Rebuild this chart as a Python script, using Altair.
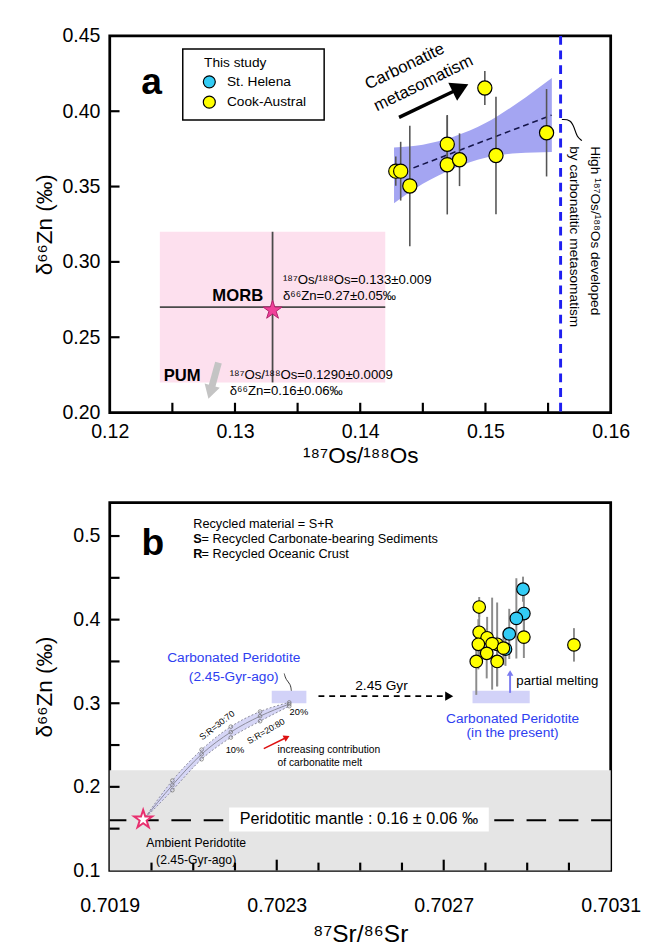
import altair as alt
import pandas as pd

FONT = "Liberation Sans"
STAR = "M0,-1L0.225,-0.309L0.951,-0.309L0.363,0.118L0.588,0.809L0,0.382L-0.588,0.809L-0.363,0.118L-0.951,-0.309L-0.225,-0.309Z"

# ================= Panel a data =================
ca_x = [0.14284, 0.14323, 0.14396, 0.14695, 0.14695, 0.14793, 0.14995, 0.15084, 0.15488]
ca_y = [0.3602, 0.3602, 0.3504, 0.3781, 0.3645, 0.3678, 0.4154, 0.3706, 0.3857]
ca_err = [0.0097, 0.0195, 0.040, 0.019, 0.033, 0.0175, 0.0113, 0.039, 0.029]

band_x = [0.1427, 0.145, 0.1475, 0.150, 0.1525, 0.1553]
band_lo = [0.3390, 0.3518, 0.3622, 0.3691, 0.3721, 0.3730]
band_hi = [0.3760, 0.3778, 0.3832, 0.3921, 0.4051, 0.4220]
trend_x = [0.14425, 0.15528]
trend_y = [0.3624, 0.3974]

morb_x, morb_y = 0.133, 0.27
morb_box_x = [0.124, 0.142]
morb_box_y = [0.22, 0.32]
morb_star_y = 0.268
carb_line_x = 0.156

legend_box_x = [0.12583, 0.13712]
legend_box_y = [0.3942, 0.4413]
legend_sym_x = [0.12795, 0.12795]
legend_sym_y = [0.4195, 0.4060]
legend_lbl = ["St. Helena", "Cook-Austral"]

arrow_a_x = [0.1431, 0.1478]
arrow_a_y = [0.3959, 0.4146]
pum_arrow_x = [0.12868, 0.12808]
pum_arrow_y = [0.2331, 0.2150]
leader_a_x = [0.1561, 0.1568, 0.1571, 0.1573, 0.1577]
leader_a_y = [0.3945, 0.3945, 0.3890, 0.3830, 0.3805]

a_xt = [0.125, 0.13, 0.135, 0.14, 0.145, 0.15, 0.155]
a_yt = [0.25, 0.30, 0.35, 0.40]
a_xlab = [0.12, 0.13, 0.14, 0.15, 0.16]
a_ylab = [0.20, 0.25, 0.30, 0.35, 0.40, 0.45]

# ================= Panel b data =================
cb_x = [0.702785, 0.702785, 0.702804, 0.702783, 0.702828, 0.702816, 0.702803, 0.702778, 0.702828, 0.702843, 0.702892, 0.703012]
cb_y = [0.4151, 0.3849, 0.3783, 0.3705, 0.3705, 0.3713, 0.3597, 0.3500, 0.3500, 0.3659, 0.3791, 0.3698]
cb_err = [0.012, 0.035, 0.025, 0.030, 0.050, 0.055, 0.030, 0.040, 0.030, 0.020, 0.025, 0.020]
sh_x = [0.702890, 0.702892, 0.702874, 0.702857, 0.702848]
sh_y = [0.4364, 0.4073, 0.4015, 0.3829, 0.3647]
sh_err = [0.015, 0.030, 0.048, 0.030, 0.020]

mix_x = [0.70198, 0.70205, 0.70212, 0.70219, 0.70226, 0.70233]
mix_up = [0.160, 0.2075, 0.2445, 0.2720, 0.2900, 0.3010]
mix_lo = [0.160, 0.1960, 0.2330, 0.2590, 0.2785, 0.2965]
mix_mid = [0.160, 0.2020, 0.2390, 0.2655, 0.2845, 0.2990]

mantle_lo, mantle_hi, mantle_mid = 0.10, 0.22, 0.16
amb_star = (0.70198, 0.161)
old_rect_x = [0.702288, 0.702371]
new_rect_x = [0.702769, 0.702906]
cp_rect_y = [0.300, 0.315]
gyr_arrow_x = [0.70240, 0.70271]
gyr_arrow_y = 0.3085
melt_arrow_x = 0.702859
melt_arrow_y = [0.3124, 0.3350]
red_arrow_x = [0.702269, 0.702322]
red_arrow_y = [0.2457, 0.2588]
label_box_x = [0.702186, 0.702808]
label_box_y = [0.1465, 0.1752]
leader_b_x = [0.702335, 0.702333, 0.702322, 0.702318]
leader_b_y = [0.3150, 0.3230, 0.3280, 0.3355]

b_xt = [0.7020, 0.7021, 0.7022, 0.7024, 0.7025, 0.7026, 0.7028, 0.7029, 0.7030]
b_xt_major = [0.7023, 0.7027]
b_yt = [0.15, 0.2, 0.25, 0.3, 0.35, 0.4, 0.45, 0.5]
b_xlab = [0.7019, 0.7023, 0.7027, 0.7031]
b_ylab = [0.1, 0.2, 0.3, 0.4, 0.5]

W, HA, HB = 512, 385, 376

XA = dict(scale=alt.Scale(domain=[0.12, 0.16], nice=False, zero=False),
          axis=alt.Axis(values=a_xlab, format=".2f", title="¹⁸⁷Os/¹⁸⁸Os", labelPadding=9, titlePadding=4,
                        labelFlush=False))
YA = dict(scale=alt.Scale(domain=[0.20, 0.45], nice=False, zero=False),
          axis=alt.Axis(values=a_ylab, format=".2f", title="δ⁶⁶Zn (‰)", labelPadding=10, titlePadding=6,
                        labelFlush=False))
XB = dict(scale=alt.Scale(domain=[0.7019, 0.7031], nice=False, zero=False),
          axis=alt.Axis(values=b_xlab, format=".4f", title="⁸⁷Sr/⁸⁶Sr", labelPadding=26, titlePadding=7,
                        titleFontSize=25, labelFlush=False))
YB = dict(scale=alt.Scale(domain=[0.10, 0.54], nice=False, zero=False),
          axis=alt.Axis(values=b_ylab, format=".1f", title="δ⁶⁶Zn (‰)", labelPadding=10, titlePadding=17,
                        labelFlush=False))


def xy(xs, ys, xf="x", yf="y"):
    return dict(x=alt.X(f"{xf}:Q", **xs), y=alt.Y(f"{yf}:Q", **ys))


def texts(xs, ys, x, y, t, size=13, color="black", weight="normal", align="left", angle=0, baseline="middle"):
    df = pd.DataFrame({"x": x, "y": y, "t": t})
    return alt.Chart(df).mark_text(font=FONT, fontSize=size, color=color, fontWeight=weight,
                                   align=align, angle=angle, baseline=baseline).encode(**xy(xs, ys), text="t:N")


def seg(xs, ys, x, y, color, width, dash=None, interp="linear"):
    df = pd.DataFrame({"x": x, "y": y})
    kw = dict(color=color, strokeWidth=width, interpolate=interp)
    if dash:
        kw["strokeDash"] = dash
    return alt.Chart(df).mark_line(**kw).encode(**xy(xs, ys))


def head(xs, ys, x, y, color, size, angle):
    df = pd.DataFrame({"x": [x], "y": [y]})
    return alt.Chart(df).mark_point(shape="triangle", filled=True, color=color, opacity=1,
                                    size=size, angle=angle).encode(**xy(xs, ys))


def box(xs, ys, x, y, **kw):
    df = pd.DataFrame({"x": [x[0]], "x2": [x[1]], "y": [y[0]], "y2": [y[1]]})
    return alt.Chart(df).mark_rect(**kw).encode(**xy(xs, ys), x2=alt.X2("x2"), y2=alt.Y2("y2"))


def bars(xs, ys, x, y, e, color, width):
    df = pd.DataFrame({"x": x, "lo": [a - b for a, b in zip(y, e)], "hi": [a + b for a, b in zip(y, e)]})
    return alt.Chart(df).mark_rule(color=color, strokeWidth=width).encode(
        x=alt.X("x:Q", **xs), y=alt.Y("lo:Q", **ys), y2=alt.Y2("hi"))


def xticks(xs, vals, h, length):
    return alt.Chart(pd.DataFrame({"x": vals})).mark_rule(color="black", strokeWidth=2.2).encode(
        x=alt.X("x:Q", **xs), y=alt.value(h), y2=alt.value(h - length))


def yticks(ys, vals, length):
    return alt.Chart(pd.DataFrame({"y": vals})).mark_rule(color="black", strokeWidth=2.2).encode(
        y=alt.Y("y:Q", **ys), x=alt.value(0), x2=alt.value(length))


# ---------------- Panel a ----------------
A = []
A.append(box(XA, YA, morb_box_x, morb_box_y, color="#fde0ee"))
A.append(seg(XA, YA, [morb_x, morb_x], morb_box_y, "#4a4a4a", 1.8))
A.append(seg(XA, YA, morb_box_x, [morb_y, morb_y], "#4a4a4a", 1.8))
A.append(alt.Chart(pd.DataFrame({"x": [morb_x], "y": [morb_star_y]})).mark_point(
    shape=STAR, filled=True, color="#f0409a", stroke="#b0206a", strokeWidth=1, size=420, opacity=1).encode(**xy(XA, YA)))
A.append(alt.Chart(pd.DataFrame({"x": band_x, "lo": band_lo, "hi": band_hi})).mark_area(
    color="#a4a5f2", opacity=1, interpolate="monotone").encode(
    x=alt.X("x:Q", **XA), y=alt.Y("lo:Q", **YA), y2=alt.Y2("hi")))
A.append(seg(XA, YA, trend_x, trend_y, "#15154a", 1.6, dash=[6, 4]))
A.append(alt.Chart(pd.DataFrame({"x": [carb_line_x]})).mark_rule(
    color="#1f1ff0", strokeWidth=3, strokeDash=[9, 6]).encode(x=alt.X("x:Q", **XA)))
A.append(seg(XA, YA, leader_a_x, leader_a_y, "black", 1.2, interp="basis"))
A.append(bars(XA, YA, ca_x, ca_y, ca_err, "#555555", 1.6))
A.append(alt.Chart(pd.DataFrame({"x": ca_x, "y": ca_y})).mark_circle(
    size=210, color="#ffff00", stroke="black", strokeWidth=1.2, opacity=1).encode(**xy(XA, YA)))
# legend
A.append(box(XA, YA, legend_box_x, legend_box_y, fill="white", stroke="black", strokeWidth=1.5))
A.append(alt.Chart(pd.DataFrame({"x": legend_sym_x, "y": legend_sym_y, "c": ["#33ccf5", "#ffff00"]}))
         .mark_circle(size=150, stroke="black", strokeWidth=1.2, opacity=1)
         .encode(**xy(XA, YA), color=alt.Color("c:N", scale=None)))
A.append(texts(XA, YA, [0.12753], [0.4318], ["This study"], size=14))
A.append(texts(XA, YA, [0.12936, 0.12936], legend_sym_y, legend_lbl, size=14))
A.append(texts(XA, YA, [0.12333], [0.4184], ["a"], size=38, weight="bold", align="center"))
# carbonatite arrow
A.append(seg(XA, YA, arrow_a_x, arrow_a_y, "black", 3.5))
A.append(head(XA, YA, arrow_a_x[1], arrow_a_y[1], "black", 420, 64))
A.append(texts(XA, YA, [0.14356, 0.14505], [0.4296, 0.4184], ["Carbonatite", "metasomatism"], size=17,
               align="center", angle=334))
# MORB / PUM annotations
A.append(texts(XA, YA, [0.13225], [0.2773], ["MORB"], size=17, weight="bold", align="right"))
A.append(texts(XA, YA, [0.13383, 0.13383], [0.2882, 0.2771],
               ["¹⁸⁷Os/¹⁸⁸Os=0.133±0.009", "δ⁶⁶Zn=0.27±0.05‰"], size=13.5))
A.append(texts(XA, YA, [0.12431], [0.2241], ["PUM"], size=17, weight="bold"))
A.append(seg(XA, YA, pum_arrow_x, pum_arrow_y, "#c4c4c4", 7))
A.append(head(XA, YA, pum_arrow_x[1], pum_arrow_y[1], "#c4c4c4", 260, 196))
A.append(texts(XA, YA, [0.12958, 0.12958], [0.2249, 0.2141],
               ["¹⁸⁷Os/¹⁸⁸Os=0.1290±0.0009", "δ⁶⁶Zn=0.16±0.06‰"], size=13.5))
A.append(texts(XA, YA, [0.15875, 0.15705], [0.3768, 0.3768],
               ["High ¹⁸⁷Os/¹⁸⁸Os developed", "by carbonatitic metasomatism"], size=14, angle=90))
A.append(xticks(XA, a_xt, HA, 10))
A.append(yticks(YA, a_yt, 10))
panel_a = alt.layer(*A).properties(width=W, height=HA)

# ---------------- Panel b ----------------
B = []
B.append(alt.Chart(pd.DataFrame({"y": [mantle_lo], "y2": [mantle_hi]})).mark_rect(color="#e5e5e5").encode(
    y=alt.Y("y:Q", **YB), y2=alt.Y2("y2"), x=alt.value(0), x2=alt.value(W)))
B.append(alt.Chart(pd.DataFrame({"y": [mantle_mid]})).mark_rule(color="black", strokeWidth=2, strokeDash=[20, 13]).encode(
    y=alt.Y("y:Q", **YB)))
B.append(box(XB, YB, label_box_x, label_box_y, color="white"))
B.append(texts(XB, YB, [(label_box_x[0] + label_box_x[1]) / 2], [0.1612],
               ["Peridotitic mantle : 0.16 ± 0.06 ‰"], size=16.5, align="center"))
B.append(box(XB, YB, old_rect_x, cp_rect_y, color="#d2d2f8"))
B.append(box(XB, YB, new_rect_x, cp_rect_y, color="#d2d2f8"))
# mixing curves
B.append(alt.Chart(pd.DataFrame({"x": mix_x, "lo": mix_lo, "hi": mix_up})).mark_area(
    color="#d6d6f6", interpolate="monotone", opacity=1).encode(
    x=alt.X("x:Q", **XB), y=alt.Y("lo:Q", **YB), y2=alt.Y2("hi")))
for ys_, dash in [(mix_up, [2, 2]), (mix_lo, [2, 2]), (mix_mid, None)]:
    B.append(seg(XB, YB, mix_x, ys_, "#8a8a9a", 1, dash=dash, interp="monotone"))
    B.append(alt.Chart(pd.DataFrame({"x": mix_x[1:], "y": ys_[1:]})).mark_point(
        filled=False, size=14, color="#777777", strokeWidth=0.8, opacity=1).encode(**xy(XB, YB)))
B.append(seg(XB, YB, leader_b_x, leader_b_y, "#333333", 1, interp="basis"))
B.append(texts(XB, YB, [0.702157], [0.2736], ["S:R=30:70"], size=9, align="center", angle=322))
B.append(texts(XB, YB, [0.702274], [0.2666], ["S:R=20:80"], size=9, align="center", angle=330))
B.append(texts(XB, YB, [0.702200, 0.702353], [0.2445, 0.2891], ["10%", "20%"], size=9.5, align="center"))
B.append(seg(XB, YB, red_arrow_x, red_arrow_y, "#dd1111", 1.6))
B.append(head(XB, YB, red_arrow_x[1], red_arrow_y[1], "#dd1111", 50, 64))
B.append(texts(XB, YB, [0.702302, 0.702302], [0.2434, 0.2279],
               ["increasing  contribution", "of carbonatite melt"], size=10.5))
B.append(alt.Chart(pd.DataFrame({"x": [amb_star[0]], "y": [amb_star[1]]})).mark_point(
    shape=STAR, filled=True, fill="white", stroke="#e8306f", strokeWidth=2, size=380, opacity=1).encode(**xy(XB, YB)))
B.append(texts(XB, YB, [0.702107, 0.702107], [0.1326, 0.1128], ["Ambient Peridotite", "(2.45-Gyr-ago)"],
               size=12.5, align="center"))
B.append(texts(XB, YB, [0.702197, 0.702197], [0.3535, 0.3318], ["Carbonated Peridotite", "(2.45-Gyr-ago)"],
               size=14, align="center", color="#2e3ef0"))
B.append(texts(XB, YB, [0.702865, 0.702865], [0.2814, 0.2640], ["Carbonated Peridotite", "(in the present)"],
               size=14, align="center", color="#2e3ef0"))
B.append(seg(XB, YB, gyr_arrow_x, [gyr_arrow_y] * 2, "black", 1.6, dash=[6, 5]))
B.append(head(XB, YB, gyr_arrow_x[1], gyr_arrow_y, "black", 90, 90))
B.append(texts(XB, YB, [0.702551], [0.3201], ["2.45 Gyr"], size=14, align="center"))
B.append(texts(XB, YB, [0.70210], [0.5148], ["Recycled material = S+R"], size=13))
B.append(texts(XB, YB, [0.70210, 0.70210], [0.4965, 0.4779], ["S", "R"], size=13, weight="bold"))
B.append(texts(XB, YB, [0.70212, 0.70212], [0.4965, 0.4779],
               ["= Recycled Carbonate-bearing Sediments", "= Recycled Oceanic Crust"], size=13))
B.append(texts(XB, YB, [0.702003], [0.4907], ["b"], size=38, weight="bold", align="center"))
# data b
B.append(bars(XB, YB, sh_x, sh_y, sh_err, "#8c8c8c", 2))
B.append(bars(XB, YB, cb_x, cb_y, cb_err, "#8c8c8c", 2))
B.append(seg(XB, YB, [melt_arrow_x, melt_arrow_x], melt_arrow_y, "#7b7bf0", 2))
B.append(head(XB, YB, melt_arrow_x, melt_arrow_y[1], "#7b7bf0", 45, 0))
B.append(texts(XB, YB, [0.702874], [0.3270], ["partial melting"], size=13.5))
B.append(alt.Chart(pd.DataFrame({"x": sh_x, "y": sh_y})).mark_circle(
    size=165, color="#33ccf5", stroke="black", strokeWidth=1.2, opacity=1).encode(**xy(XB, YB)))
B.append(alt.Chart(pd.DataFrame({"x": cb_x, "y": cb_y})).mark_circle(
    size=165, color="#ffff00", stroke="black", strokeWidth=1.2, opacity=1).encode(**xy(XB, YB)))
B.append(xticks(XB, b_xt, HB, 8))
B.append(xticks(XB, b_xt_major, HB, 11))
B.append(yticks(YB, b_yt, 10))
panel_b = alt.layer(*B).properties(width=W, height=HB)

chart = alt.vconcat(panel_a, panel_b, spacing=32).properties(
    padding={"left": 24, "top": 6, "right": 0, "bottom": 0}
).configure_view(stroke="black", strokeWidth=2.8).configure_axis(
    labelFont=FONT, titleFont=FONT, labelFontSize=20, titleFontSize=23, titleFontWeight="normal",
    domain=False, ticks=False, grid=False, labelColor="black", titleColor="black"
)

chart.save("out.html", embed_options={"renderer": "svg", "actions": False})
